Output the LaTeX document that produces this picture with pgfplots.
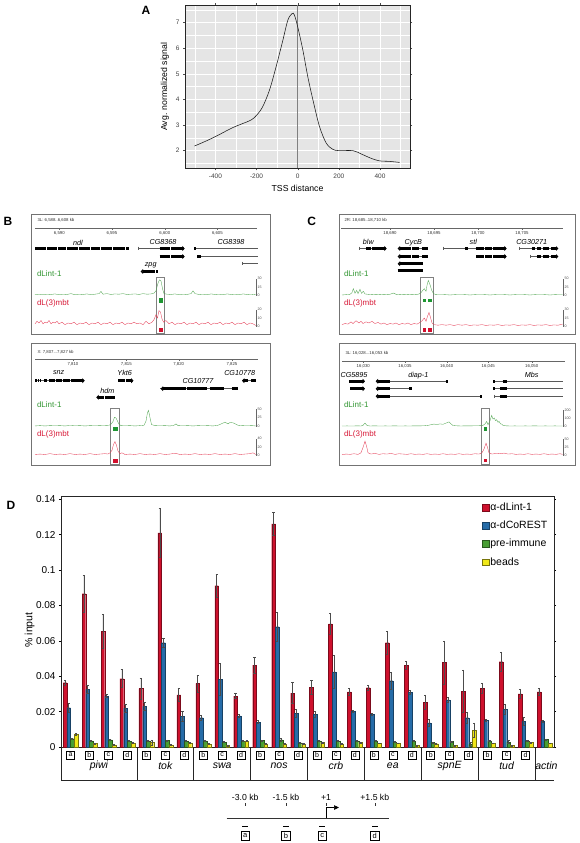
\documentclass[border=0pt]{standalone}
\usepackage{fontspec}
\setmainfont{Liberation Sans}
\usepackage{pgfplots}
\usepackage{pgfplotstable}
\pgfplotsset{compat=1.18}
\usetikzlibrary{arrows.meta}

\definecolor{cRed}{RGB}{206,17,45}
\definecolor{cBlue}{RGB}{38,108,168}
\definecolor{cGreen}{RGB}{72,158,52}
\definecolor{cYellow}{RGB}{240,232,24}
\definecolor{trGreen}{RGB}{80,165,80}
\definecolor{trRed}{RGB}{228,60,85}
\definecolor{lblGreen}{RGB}{50,150,50}
\definecolor{lblRed}{RGB}{215,25,55}
\definecolor{sqGreen}{RGB}{30,150,50}
\definecolor{sqRed}{RGB}{210,15,45}
\definecolor{bgA}{RGB}{229,229,229}

\pgfplotstableread{
i r re b be g ge y ye
0 0.0363 0.0012 0.0222 0.0023 0.0047 0.0005 0.0073 0.0005
1 0.0866 0.0105 0.0326 0.0021 0.0035 0.0003 0.0020 0.0003
2 0.0654 0.0095 0.0288 0.0009 0.0041 0.0004 0.0012 0.0002
3 0.0386 0.0051 0.0219 0.0023 0.0033 0.0003 0.0024 0.0003
4 0.0330 0.0060 0.0229 0.0022 0.0035 0.0004 0.0026 0.0014
5 0.1209 0.0138 0.0589 0.0023 0.0037 0.0003 0.0012 0.0002
6 0.0294 0.0038 0.0174 0.0026 0.0033 0.0003 0.0024 0.0003
7 0.0359 0.0047 0.0166 0.0014 0.0035 0.0003 0.0017 0.0002
8 0.0911 0.0064 0.0382 0.0091 0.0028 0.0002 0.0009 0.0002
9 0.0288 0.0015 0.0176 0.0009 0.0033 0.0003 0.0033 0.0003
10 0.0463 0.0044 0.0141 0.0009 0.0037 0.0003 0.0017 0.0002
11 0.1260 0.0064 0.0680 0.0081 0.0041 0.0009 0.0017 0.0002
12 0.0305 0.0060 0.0190 0.0022 0.0024 0.0002 0.0017 0.0002
13 0.0337 0.0040 0.0185 0.0017 0.0035 0.0003 0.0026 0.0002
14 0.0695 0.0060 0.0424 0.0094 0.0033 0.0003 0.0017 0.0002
15 0.0311 0.0021 0.0201 0.0004 0.0035 0.0004 0.0026 0.0003
16 0.0335 0.0015 0.0185 0.0006 0.0035 0.0003 0.0022 0.0002
17 0.0589 0.0063 0.0375 0.0047 0.0028 0.0002 0.0022 0.0002
18 0.0461 0.0021 0.0309 0.0009 0.0033 0.0003 0.0009 0.0002
19 0.0254 0.0040 0.0137 0.0019 0.0026 0.0002 0.0019 0.0002
20 0.0478 0.0121 0.0266 0.0015 0.0031 0.0003 0.0009 0.0002
21 0.0315 0.0120 0.0166 0.0030 0.0015 0.0012 0.0096 0.0041
22 0.0333 0.0027 0.0152 0.0004 0.0035 0.0003 0.0022 0.0002
23 0.0482 0.0055 0.0213 0.0028 0.0028 0.0008 0.0009 0.0002
24 0.0300 0.0026 0.0145 0.0022 0.0033 0.0003 0.0026 0.0002
25 0.0311 0.0021 0.0145 0.0005 0.0043 0.0003 0.0022 0.0002
}\dataD

\tikzset{
  glab/.style={font=\fontsize{7.2}{8}\selectfont\itshape},
  rlab/.style={font=\fontsize{4.3}{5}\selectfont, text=black!80},
  glbl/.style={font=\fontsize{8}{9}\selectfont, text=lblGreen, anchor=west},
  rlbl/.style={font=\fontsize{8}{9}\selectfont, text=lblRed, anchor=west},
  dname/.style={font=\fontsize{10.5}{12}\selectfont\itshape},
}
\pgfplotsset{
  frameax/.style={scale only axis, enlargelimits=false, y dir=reverse, ticks=none, clip=false,
    unbounded coords=jump, axis line style={black!55, line width=0.8pt}},
  trackax/.style={scale only axis, enlargelimits=false, axis x line=none, axis y line=right, clip=false, ymin=0,
    axis line style={-, black!60, line width=0.3pt}, tick style={black!60, line width=0.3pt},
    major tick length=1.2pt, tick align=outside,
    yticklabel style={font=\fontsize{3.6}{4}\selectfont, text=black!70, inner sep=0.6pt},
    /pgf/number format/assume math mode=true},
  gene/.style={black, line width=3.2pt},
  intr/.style={black!65, line width=0.45pt},
  garr/.style={black, line width=3.2pt, -{Triangle[length=2.3pt,width=4.8pt]}},
  gtr/.style={trGreen, line width=0.35pt},
  rtr/.style={trRed, line width=0.35pt},
}

\begin{document}
\begin{tikzpicture}
\path[use as bounding box] (0pt,0pt) rectangle (579pt,-843pt);

% ---------------- Panel A ----------------
\node[font=\bfseries\fontsize{12}{12}\selectfont] at (146pt,-10pt) {A};
\begin{axis}[at={(185pt,-168.3pt)}, anchor=south west, scale only axis, width=225pt, height=163.3pt,
  xmin=-548, xmax=546, ymin=1.31, ymax=7.69,
  axis background/.style={fill=bgA},
  xtick={-400,-200,0,200,400}, ytick={2,3,4,5,6,7},
  minor xtick={-500,-300,-100,100,300,500}, minor ytick={1.5,2.5,3.5,4.5,5.5,6.5,7.5},
  grid=both, major grid style={white, line width=0.7pt}, minor grid style={white, line width=0.35pt},
  tick align=outside, major tick length=2pt, minor tick length=0pt,
  tick style={black!70, line width=0.4pt},
  ticklabel style={font=\fontsize{6.5}{7}\selectfont, text=black!75},
  /pgf/number format/assume math mode=true,
  axis line style={black!85, line width=0.5pt},
  xlabel={TSS distance}, ylabel={Avg. normalized signal},
  label style={font=\fontsize{8.7}{10}\selectfont},
  clip=true]
\addplot[black!50, line width=1.3pt] coordinates {(0,1.31) (0,7.69)};
\addplot[black!90, line width=0.55pt, smooth, tension=0.5] coordinates {
(-502,2.18) (-450,2.36) (-400,2.55) (-350,2.76) (-316,2.90) (-270,3.05) (-226,3.20)
(-199,3.39) (-170,3.72) (-137,4.37) (-105,5.28) (-72,6.32) (-48,7.10) (-27,7.36)
(-16,7.30) (0,6.84) (25,5.93) (49,4.89) (74,3.98) (106,2.94) (139,2.29) (171,2.05)
(200,2.0) (268,2.0) (309,1.87) (357,1.70) (398,1.60) (447,1.58) (495,1.54)};
\end{axis}

% ---------------- Panel B / C labels ----------------
\node[font=\bfseries\fontsize{12}{12}\selectfont] at (8pt,-221pt) {B};
\node[font=\bfseries\fontsize{12}{12}\selectfont] at (311.6pt,-221pt) {C};

% ===== B1 frame =====
\begin{axis}[frameax, at={(150.5pt,-274pt)}, anchor=center, width=239pt, height=120pt,
  xmin=31, xmax=270, ymin=214, ymax=334]
\node[rlab, anchor=west] at (axis cs:34,220.7) {3L: 6,588..6,608 kb};
\draw[black!60, line width=0.4pt] (axis cs:35,228.3) -- (axis cs:257,228.3);
\draw[black!60, line width=0.4pt] (axis cs:59.3,228.3) -- (axis cs:59.3,230);
\draw[black!60, line width=0.4pt] (axis cs:111.9,228.3) -- (axis cs:111.9,230);
\draw[black!60, line width=0.4pt] (axis cs:164.8,228.3) -- (axis cs:164.8,230);
\draw[black!60, line width=0.4pt] (axis cs:217.4,228.3) -- (axis cs:217.4,230);
\node[rlab] at (axis cs:59.3,233.3) {6,590};
\node[rlab] at (axis cs:111.9,233.3) {6,595};
\node[rlab] at (axis cs:164.8,233.3) {6,600};
\node[rlab] at (axis cs:217.4,233.3) {6,605};
\node[glab] at (axis cs:78,242.5) {ndl};
\node[glab] at (axis cs:163,242.5) {CG8368};
\node[glab] at (axis cs:231,242.5) {CG8398};
\node[glab] at (axis cs:150.7,265.3) {zpg};
% ndl
\addplot[gene] coordinates {(35.3,248.5)(46,248.5)(nan,nan)(46.8,248.5)(57,248.5)(nan,nan)(57.8,248.5)(66,248.5)(nan,nan)(66.8,248.5)(78,248.5)(nan,nan)(78.8,248.5)(90,248.5)(nan,nan)(90.8,248.5)(100,248.5)(nan,nan)(100.8,248.5)(112,248.5)(nan,nan)(112.8,248.5)(124.7,248.5)(nan,nan)(126.3,248.5)(129,248.5)};
% CG8368
\addplot[intr] coordinates {(138,248.5)(160,248.5)};
\addplot[intr] coordinates {(138,246.7)(138,250.3)};
\addplot[gene] coordinates {(159.7,248.5)(170,248.5)(nan,nan)(171,248.5)(180.5,248.5)};
\addplot[garr] coordinates {(180,248.5)(184.7,248.5)};
\addplot[gene] coordinates {(159.7,256.5)(170,256.5)(nan,nan)(171,256.5)(180.5,256.5)};
\addplot[garr] coordinates {(180,256.5)(184.7,256.5)};
% CG8398
\addplot[intr] coordinates {(196,248.5)(258,248.5)};
\addplot[gene] coordinates {(194,248.5)(196.3,248.5)};
\addplot[intr] coordinates {(200,256.5)(258,256.5)};
\addplot[gene] coordinates {(197.3,256.5)(200.7,256.5)};
\addplot[intr] coordinates {(242.3,263.5)(258,263.5)};
\addplot[intr] coordinates {(242.3,261.7)(242.3,265.3)};
% zpg
\addplot[garr] coordinates {(151,271.5)(140.7,271.5)};
\addplot[gene] coordinates {(150.5,271.5)(155,271.5)(nan,nan)(156,271.5)(158,271.5)};
\node[glbl] at (axis cs:33.5,273.7) {dLint-1};
\node[rlbl] at (axis cs:33.5,303) {dL(3)mbt};
\draw[black!50, line width=0.5pt] (axis cs:156.3,277) rectangle (axis cs:164.7,333.2);
\addplot[only marks, mark=square*, mark size=1.7pt, sqGreen] coordinates {(160.5,300.3)};
\addplot[only marks, mark=square*, mark size=1.7pt, sqRed] coordinates {(160.5,329.5)};
\end{axis}

\begin{axis}[trackax, at={(35pt,-295.3pt)}, anchor=south west, width=220.7pt, height=16.6pt,
  xmin=35, xmax=255.7, ymax=30, ytick={0,15,30}]
\addplot[gtr] coordinates {(35,1)(39,2)(43,1)(47,2)(51,1.5)(55,2.5)(59,1)(63,2)(67,1.5)(71,3)(75,1)(79,2)(83,1.5)(87,2.5)(91,1)(95,2)(99,3)(101,7)(103,2)(107,3)(111,1.5)(115,2.5)(119,2)(123,3)(127,1.5)(131,2)(135,2.5)(139,1.5)(143,3)(147,2)(151,2.5)(154,4)(156,8)(158,22)(159.5,28)(161,26)(162.5,12)(164,3)(167,2)(171,1.5)(175,2.5)(179,1)(183,2)(187,1.5)(191,3)(193,8)(195,3)(199,1.5)(203,2)(207,1)(211,2.5)(215,1.5)(219,2)(223,1)(227,2.5)(231,1.5)(235,2)(239,1)(243,2.5)(247,1.5)(251,2)(255.7,1)};
\end{axis}
\begin{axis}[trackax, at={(35pt,-326.3pt)}, anchor=south west, width=220.7pt, height=16.6pt,
  xmin=35, xmax=255.7, ymax=20, ytick={0,10,20}]
\addplot[rtr] coordinates {(35,3)(37,6)(39,4)(41,7)(43,3)(45,5)(47,4)(49,7)(51,3)(53,5)(55,4)(57,6)(59,3)(62,5)(65,2)(68,4)(71,3)(74,5)(77,2)(80,4)(83,3)(86,5)(89,2)(92,4)(95,3)(98,5)(101,2)(104,4)(107,3)(110,5)(113,2)(116,4)(119,3)(122,5)(125,2)(128,4)(131,3)(134,5)(137,3)(140,4)(143,2)(146,6)(149,3)(152,5)(154,8)(156,14)(157.5,10)(159,19)(160.5,17)(162,9)(163.5,5)(166,7)(169,3)(172,5)(175,2)(178,4)(181,3)(184,5)(187,2)(190,4)(193,3)(196,5)(199,2)(202,4)(205,3)(208,5)(211,2)(214,4)(217,3)(220,5)(223,2)(226,4)(229,3)(232,5)(235,2)(238,4)(241,3)(244,5)(247,2)(250,4)(253,3)(255.7,1)};
\end{axis}

% ===== B2 frame =====
\begin{axis}[frameax, at={(150.5pt,-404pt)}, anchor=center, width=239pt, height=122pt,
  xmin=31, xmax=270, ymin=343, ymax=465]
\node[rlab, anchor=west] at (axis cs:34,352) {X: 7,807...7,827 kb};
\draw[black!60, line width=0.4pt] (axis cs:35.3,359) -- (axis cs:258,359);
\draw[black!60, line width=0.4pt] (axis cs:73,359) -- (axis cs:73,360.7);
\draw[black!60, line width=0.4pt] (axis cs:126.3,359) -- (axis cs:126.3,360.7);
\draw[black!60, line width=0.4pt] (axis cs:178.7,359) -- (axis cs:178.7,360.7);
\draw[black!60, line width=0.4pt] (axis cs:232,359) -- (axis cs:232,360.7);
\node[rlab] at (axis cs:73,364) {7,810};
\node[rlab] at (axis cs:126.3,364) {7,815};
\node[rlab] at (axis cs:178.7,364) {7,820};
\node[rlab] at (axis cs:232,364) {7,825};
\node[glab] at (axis cs:58.7,373) {snz};
\node[glab] at (axis cs:124.7,373) {Ykt6};
\node[glab] at (axis cs:239.7,373) {CG10778};
\node[glab] at (axis cs:198,381.3) {CG10777};
\node[glab] at (axis cs:107.3,390.7) {hdm};
% snz
\addplot[intr] coordinates {(35.3,380.7)(84,380.7)};
\addplot[gene] coordinates {(35.3,380.7)(37,380.7)(nan,nan)(37.7,380.7)(39.3,380.7)(nan,nan)(40,380.7)(41.3,380.7)(nan,nan)(44,380.7)(47.3,380.7)(nan,nan)(48.7,380.7)(55,380.7)(nan,nan)(55.7,380.7)(62,380.7)(nan,nan)(62.7,380.7)(70,380.7)(nan,nan)(70.7,380.7)(78.5,380.7)};
\addplot[garr] coordinates {(78,380.7)(84.7,380.7)};
% Ykt6
\addplot[gene] coordinates {(118,380.7)(125,380.7)(nan,nan)(125.7,380.7)(130.5,380.7)};
\addplot[garr] coordinates {(130,380.7)(133.5,380.7)};
% CG10778
\addplot[intr] coordinates {(243,380.7)(256.3,380.7)};
\addplot[garr] coordinates {(248,380.7)(242,380.7)};
\addplot[gene] coordinates {(251,380.7)(256.3,380.7)};
% CG10777
\addplot[intr] coordinates {(160,388.7)(238,388.7)};
\addplot[garr] coordinates {(165.5,388.7)(160.7,388.7)};
\addplot[gene] coordinates {(165,388.7)(186,388.7)(nan,nan)(186.7,388.7)(207,388.7)(nan,nan)(209.5,388.7)(224,388.7)(nan,nan)(232,388.7)(238,388.7)};
% hdm
\addplot[garr] coordinates {(99.5,397.3)(96.3,397.3)};
\addplot[gene] coordinates {(99,397.3)(104,397.3)(nan,nan)(104.7,397.3)(114.7,397.3)};
\node[glbl] at (axis cs:33.5,404.7) {dLint-1};
\node[rlbl] at (axis cs:33.5,434.7) {dL(3)mbt};
\draw[black!50, line width=0.5pt] (axis cs:110.7,408) rectangle (axis cs:119.7,464.3);
\addplot[only marks, mark=square*, mark size=1.7pt, sqGreen] coordinates {(115.3,428.7)};
\addplot[only marks, mark=square*, mark size=1.7pt, sqRed] coordinates {(115.3,460.5)};
\end{axis}

\begin{axis}[trackax, at={(35pt,-426.3pt)}, anchor=south west, width=220.7pt, height=17.3pt,
  xmin=35, xmax=255.7, ymax=50, ytick={0,25,50}]
\addplot[gtr] coordinates {(35,1)(40,2)(45,1)(50,2)(55,1.5)(60,2)(65,1)(70,2.5)(75,1.5)(80,2)(85,1)(90,2)(95,1.5)(100,2)(105,2.5)(109,3)(111,6)(113,14)(114.5,26)(116,24)(117.5,15)(119,6)(121,2)(125,1.5)(130,2)(135,1)(140,2)(144,3)(146,15)(147.5,40)(148.5,46)(150,25)(151.5,5)(155,2)(160,1.5)(165,2)(170,1)(174,3)(176,7)(178,2)(183,1.5)(188,2)(193,1)(198,2)(203,1.5)(208,2)(213,1)(218,3)(222,8)(225,12)(228,7)(230,11)(233,10)(236,6)(238,3)(242,2)(247,1.5)(252,2)(255.7,1)};
\end{axis}
\begin{axis}[trackax, at={(35pt,-455.3pt)}, anchor=south west, width=220.7pt, height=16.6pt,
  xmin=35, xmax=255.7, ymax=40, ytick={0,20,40}]
\addplot[rtr] coordinates {(35,2)(40,3)(45,2)(50,4)(55,2)(60,3)(65,2)(70,4)(75,2)(80,3)(85,2)(90,4)(95,2)(100,3)(105,4)(108,3)(110,6)(112,12)(113.5,26)(115,33)(116.5,24)(118,10)(120,4)(122,6)(125,2)(130,3)(135,2)(140,4)(145,2)(150,3)(155,2)(160,4)(165,2)(170,3)(175,5)(180,2)(185,3)(190,2)(195,4)(200,2)(205,3)(210,2)(215,4)(220,2)(225,3)(230,2)(235,4)(240,2)(245,3)(250,4)(253,6)(255.7,2)};
\end{axis}

% ===== C1 frame =====
\begin{axis}[frameax, at={(457pt,-274pt)}, anchor=center, width=236pt, height=120pt,
  xmin=339, xmax=575, ymin=214, ymax=334]
\node[rlab, anchor=west] at (axis cs:341,220.7) {2R: 18,685..18,710 kb};
\draw[black!60, line width=0.4pt] (axis cs:341,228.3) -- (axis cs:563,228.3);
\draw[black!60, line width=0.4pt] (axis cs:390,228.3) -- (axis cs:390,230);
\draw[black!60, line width=0.4pt] (axis cs:434,228.3) -- (axis cs:434,230);
\draw[black!60, line width=0.4pt] (axis cs:478,228.3) -- (axis cs:478,230);
\draw[black!60, line width=0.4pt] (axis cs:522,228.3) -- (axis cs:522,230);
\node[rlab] at (axis cs:390,233.3) {18,690};
\node[rlab] at (axis cs:434,233.3) {18,695};
\node[rlab] at (axis cs:478,233.3) {18,700};
\node[rlab] at (axis cs:522,233.3) {18,705};
\node[glab] at (axis cs:368.3,242.3) {blw};
\node[glab] at (axis cs:413.3,242.3) {CycB};
\node[glab] at (axis cs:473.3,242.3) {stl};
\node[glab] at (axis cs:531.7,242.3) {CG30271};
% blw
\addplot[intr] coordinates {(359,248.5)(386,248.5)};
\addplot[intr] coordinates {(359,246.7)(359,250.3)};
\addplot[gene] coordinates {(366,248.5)(371,248.5)(nan,nan)(372,248.5)(380.5,248.5)};
\addplot[garr] coordinates {(380,248.5)(386.7,248.5)};
% CycB
\addplot[garr] coordinates {(402.5,248.5)(397.7,248.5)};
\addplot[gene] coordinates {(402,248.5)(411,248.5)(nan,nan)(412,248.5)(419,248.5)(nan,nan)(422,248.5)(428.3,248.5)};
\addplot[intr] coordinates {(419,248.5)(422,248.5)};
\addplot[garr] coordinates {(402.5,256.5)(397.7,256.5)};
\addplot[gene] coordinates {(402,256.5)(411,256.5)(nan,nan)(412,256.5)(419,256.5)(nan,nan)(422,256.5)(428.3,256.5)};
\addplot[intr] coordinates {(419,256.5)(422,256.5)};
\addplot[garr] coordinates {(402.5,263.7)(397.7,263.7)};
\addplot[gene] coordinates {(402,263.7)(423.3,263.7)};
\addplot[gene] coordinates {(397.7,270.7)(423.3,270.7)};
% stl
\addplot[intr] coordinates {(443.3,248.5)(506,248.5)};
\addplot[intr] coordinates {(443.3,246.7)(443.3,250.3)};
\addplot[gene] coordinates {(465,248.5)(467.5,248.5)(nan,nan)(476,248.5)(484,248.5)(nan,nan)(485,248.5)(492,248.5)(nan,nan)(493,248.5)(500.5,248.5)};
\addplot[garr] coordinates {(500,248.5)(506.7,248.5)};
\addplot[gene] coordinates {(476,256.5)(484,256.5)(nan,nan)(485,256.5)(492,256.5)(nan,nan)(493,256.5)(500.5,256.5)};
\addplot[garr] coordinates {(500,256.5)(506.7,256.5)};
% CG30271
\addplot[intr] coordinates {(519.3,248.5)(558,248.5)};
\addplot[intr] coordinates {(519.3,246.7)(519.3,250.3)};
\addplot[gene] coordinates {(532,248.5)(535,248.5)(nan,nan)(537,248.5)(541,248.5)(nan,nan)(543,248.5)(549,248.5)};
\addplot[garr] coordinates {(551,248.5)(558.3,248.5)};
\addplot[intr] coordinates {(530,256.5)(558,256.5)};
\addplot[intr] coordinates {(530,254.7)(530,258.3)};
\addplot[gene] coordinates {(537,256.5)(541,256.5)(nan,nan)(543,256.5)(549,256.5)};
\addplot[garr] coordinates {(551,256.5)(558.3,256.5)};
\node[glbl] at (axis cs:340.5,273.7) {dLint-1};
\node[rlbl] at (axis cs:340.5,303) {dL(3)mbt};
\draw[black!50, line width=0.5pt] (axis cs:420,277) rectangle (axis cs:433.3,333.2);
\addplot[only marks, mark=square*, mark size=1.3pt, sqGreen] coordinates {(424,300.3)(429.8,300.3)};
\addplot[only marks, mark=square*, mark size=1.3pt, sqRed] coordinates {(424,329.5)(429.8,329.5)};
\end{axis}

\begin{axis}[trackax, at={(342pt,-295.3pt)}, anchor=south west, width=220.7pt, height=16.6pt,
  xmin=342, xmax=562.7, ymax=50, ytick={0,25,50}]
\addplot[gtr] coordinates {(342,1)(346,2)(350,3)(352,8)(353.3,20)(355,6)(356.7,15)(358,5)(360,18)(361.5,6)(363.3,12)(365,4)(368,3)(372,2)(376,3)(380,2)(384,3)(388,2)(391,4)(393.3,7)(396,3)(400,2)(404,3)(408,2)(412,3)(416,2)(419,4)(421,8)(422.5,14)(424.3,20)(426,12)(427,30)(428.3,45)(430,32)(431.7,15)(433.5,5)(436,2)(440,1.5)(445,2)(450,1)(455,2)(460,1.5)(465,2)(470,1)(475,2)(480,1.5)(485,2)(490,1)(495,2)(500,1.5)(505,2)(510,1)(515,2)(520,1.5)(525,2)(530,1)(535,2)(540,1.5)(545,2)(550,1)(555,2)(562.7,1.5)};
\end{axis}
\begin{axis}[trackax, at={(342pt,-326.3pt)}, anchor=south west, width=220.7pt, height=16.6pt,
  xmin=342, xmax=562.7, ymax=30, ytick={0,15,30}]
\addplot[rtr] coordinates {(342,3)(345,5)(348,4)(351,8)(353,5)(356,10)(359,6)(361,9)(363,5)(366,8)(369,6)(372,9)(375,5)(378,7)(381,4)(384,6)(387,3)(390,5)(393,4)(396,6)(399,3)(402,5)(405,4)(408,6)(411,3)(414,5)(417,4)(420,7)(422,10)(424.3,15)(426,9)(427.5,18)(429,25)(430.5,16)(432,6)(434,3)(438,2)(442,3)(446,2)(450,3)(454,1.5)(458,3)(462,2)(466,3)(470,1.5)(474,2.5)(478,2)(482,3)(486,1.5)(490,2.5)(494,2)(498,3)(502,1.5)(506,2.5)(510,2)(514,3)(518,1.5)(522,2.5)(526,2)(530,3)(534,1.5)(538,2.5)(542,2)(546,3)(550,1.5)(554,2.5)(558,2)(562.7,4)};
\end{axis}

% ===== C2 frame =====
\begin{axis}[frameax, at={(457pt,-404pt)}, anchor=center, width=236pt, height=122pt,
  xmin=339, xmax=575, ymin=343, ymax=465]
\node[rlab, anchor=west] at (axis cs:342,353) {3L: 16,028...16,053 kb};
\draw[black!60, line width=0.4pt] (axis cs:342.3,361.3) -- (axis cs:565,361.3);
\draw[black!60, line width=0.4pt] (axis cs:363.3,361.3) -- (axis cs:363.3,363);
\draw[black!60, line width=0.4pt] (axis cs:405,361.3) -- (axis cs:405,363);
\draw[black!60, line width=0.4pt] (axis cs:446.7,361.3) -- (axis cs:446.7,363);
\draw[black!60, line width=0.4pt] (axis cs:488.3,361.3) -- (axis cs:488.3,363);
\draw[black!60, line width=0.4pt] (axis cs:531.7,361.3) -- (axis cs:531.7,363);
\node[rlab] at (axis cs:363.3,366.3) {16,030};
\node[rlab] at (axis cs:405,366.3) {16,035};
\node[rlab] at (axis cs:446.7,366.3) {16,040};
\node[rlab] at (axis cs:488.3,366.3) {16,045};
\node[rlab] at (axis cs:531.7,366.3) {16,050};
\node[glab] at (axis cs:354,375.3) {CG5895};
\node[glab] at (axis cs:418.3,375.3) {diap-1};
\node[glab] at (axis cs:531.7,375.3) {Mbs};
% CG5895
\addplot[gene] coordinates {(349,381.3)(360.5,381.3)};
\addplot[garr] coordinates {(360,381.3)(365,381.3)};
\addplot[gene] coordinates {(350,388.7)(360.5,388.7)};
\addplot[garr] coordinates {(360,388.7)(365,388.7)};
% diap-1
\addplot[intr] coordinates {(380,381.3)(448.3,381.3)};
\addplot[garr] coordinates {(380.5,381.3)(375.7,381.3)};
\addplot[gene] coordinates {(380,381.3)(390,381.3)(nan,nan)(445.7,381.3)(448.3,381.3)};
\addplot[intr] coordinates {(380,388.7)(411.7,388.7)};
\addplot[garr] coordinates {(380.5,388.7)(375.7,388.7)};
\addplot[gene] coordinates {(380,388.7)(390,388.7)(nan,nan)(409,388.7)(411.7,388.7)};
\addplot[intr] coordinates {(380,396.3)(482.3,396.3)};
\addplot[garr] coordinates {(380.5,396.3)(375.7,396.3)};
\addplot[gene] coordinates {(380,396.3)(390,396.3)(nan,nan)(480,396.3)(482.3,396.3)};
% Mbs
\addplot[intr] coordinates {(493.3,381.3)(563.3,381.3)};
\addplot[gene] coordinates {(493.3,381.3)(495.3,381.3)(nan,nan)(502.7,381.3)(506.7,381.3)};
\addplot[intr] coordinates {(493.3,388.7)(563.3,388.7)};
\addplot[gene] coordinates {(493.3,388.7)(495.3,388.7)(nan,nan)(500,388.7)(506.7,388.7)};
\addplot[intr] coordinates {(494,396.3)(563.3,396.3)};
\addplot[intr] coordinates {(494,394.5)(494,398.1)};
\addplot[gene] coordinates {(500,396.3)(506.7,396.3)};
\node[glbl] at (axis cs:340.5,404.7) {dLint-1};
\node[rlbl] at (axis cs:340.5,434.7) {dL(3)mbt};
\draw[black!50, line width=0.5pt] (axis cs:481.7,408) rectangle (axis cs:489,464.3);
\addplot[only marks, mark=square*, mark size=1.1pt, sqGreen] coordinates {(485.5,428.7)};
\addplot[only marks, mark=square*, mark size=1.1pt, sqRed] coordinates {(485.5,460.5)};
\end{axis}

\begin{axis}[trackax, at={(342pt,-426.3pt)}, anchor=south west, width=220.7pt, height=16pt,
  xmin=342, xmax=562.7, ymax=200, ytick={0,100,200}]
\addplot[gtr] coordinates {(342,3)(347,5)(352,3)(357,6)(361,4)(363,12)(365,40)(367,10)(370,4)(375,6)(380,3)(385,5)(390,4)(395,6)(400,3)(405,5)(410,4)(415,6)(420,5)(425,8)(428,12)(431,20)(434,28)(437,22)(440,30)(443,25)(446,40)(449,55)(451,30)(453,10)(457,6)(461,4)(465,6)(470,5)(475,7)(480,8)(483,12)(485,30)(486.7,60)(488,20)(490,70)(491.7,137)(493,90)(494.3,104)(495.5,70)(496.7,83)(498,50)(499,62)(500.5,30)(501.7,29)(503,12)(506,6)(510,4)(515,5)(520,3)(525,5)(530,4)(535,6)(540,3)(545,5)(550,4)(555,5)(562.7,3)};
\end{axis}
\begin{axis}[trackax, at={(342pt,-455.3pt)}, anchor=south west, width=220.7pt, height=15.7pt,
  xmin=342, xmax=562.7, ymax=50, ytick={0,25,50}]
\addplot[rtr] coordinates {(342,2)(346,4)(350,3)(354,5)(358,3)(361,8)(363,25)(365,45)(366.5,30)(368,8)(371,4)(375,6)(379,3)(383,5)(387,4)(391,6)(395,3)(399,5)(403,4)(407,3)(411,5)(415,3)(419,4)(423,3)(427,5)(431,3)(435,4)(439,3)(443,5)(447,3)(451,4)(455,3)(459,5)(463,3)(467,4)(471,3)(475,5)(479,4)(482,8)(484,20)(486,39)(487.5,25)(489,8)(492,4)(496,6)(500,5)(504,7)(508,4)(512,5)(516,3)(520,4)(524,3)(528,5)(532,3)(536,4)(540,3)(544,5)(548,3)(552,4)(556,3)(560,5)(562.7,3)};
\end{axis}

% ---------------- Panel D ----------------
\node[font=\bfseries\fontsize{12}{12}\selectfont] at (11pt,-505pt) {D};
\node[font=\fontsize{10.5}{12}\selectfont, rotate=90] at (29.6pt,-630pt) {\% input};
\begin{axis}[at={(61pt,-747pt)}, anchor=south west, scale only axis, width=493pt, height=250.5pt,
  xmin=-0.5, xmax=25.5, ymin=0, ymax=0.1415, clip=false,
  ybar=0pt, bar width=3.7pt,
  xtick={0,...,24}, xticklabels={a,b,c,d,b,c,d,b,c,d,b,c,d,b,c,d,b,c,d,b,c,d,b,c,d},
  xticklabel style={draw=black, line width=0.55pt, inner sep=0pt, minimum width=8pt, minimum height=8pt,
    font=\fontsize{7}{7}\selectfont, yshift=-1.8pt},
  major x tick style={draw=none},
  ytick={0,0.02,0.04,0.06,0.08,0.1,0.12,0.14},
  scaled y ticks=false,
  yticklabel style={/pgf/number format/fixed, /pgf/number format/precision=2, font=\fontsize{10}{11}\selectfont},
  /pgf/number format/assume math mode=true,
  tick align=outside, major tick length=2pt, major y tick style={black, line width=0.5pt},
  axis line style={black!85, line width=0.6pt},
  legend style={at={(axis cs:21.55,0.1397)}, anchor=north west, draw=none, fill=none,
    font=\fontsize{10.5}{12}\selectfont, row sep=6.6pt, nodes={inner sep=1.2pt}},
  legend cell align=left,
  legend image code/.code={\draw[#1, line width=0.3pt] (0pt,-3.3pt) rectangle (6.6pt,3.3pt);},
]
\addplot[fill=cRed, draw=cRed!60!black, line width=0.2pt,
  error bars/.cd, y dir=both, y explicit, error bar style={black!70, line width=0.45pt},
  error mark options={black!70, line width=0.45pt, mark size=1.1pt, rotate=90}]
  table[x=i, y=r, y error=re]{\dataD};
\addplot[fill=cBlue, draw=cBlue!60!black, line width=0.2pt,
  error bars/.cd, y dir=both, y explicit, error bar style={black!70, line width=0.45pt},
  error mark options={black!70, line width=0.45pt, mark size=1.1pt, rotate=90}]
  table[x=i, y=b, y error=be]{\dataD};
\addplot[fill=cGreen, draw=cGreen!55!black, line width=0.2pt,
  error bars/.cd, y dir=both, y explicit, error bar style={black!70, line width=0.45pt},
  error mark options={black!70, line width=0.45pt, mark size=1.1pt, rotate=90}]
  table[x=i, y=g, y error=ge]{\dataD};
\addplot[fill=cYellow, draw=cYellow!50!black, line width=0.2pt,
  error bars/.cd, y dir=both, y explicit, error bar style={black!70, line width=0.45pt},
  error mark options={black!70, line width=0.45pt, mark size=1.1pt, rotate=90}]
  table[x=i, y=y, y error=ye]{\dataD};
\legend{α-dLint-1, α-dCoREST, pre-immune, beads}
\draw[black!85, line width=0.6pt] (axis cs:-0.5,0) -- (axis cs:-0.5,-0.01904) -- (axis cs:25.5,-0.01904);
\pgfplotsinvokeforeach{3.5,6.5,9.5,12.5,15.5,18.5,21.5,24.5}{
  \draw[black!85, line width=0.6pt] (axis cs:#1,0) -- (axis cs:#1,-0.01904);
}
\node[dname] at (axis cs:1.5,-0.0107) {piwi};
\node[dname] at (axis cs:5,-0.0107) {tok};
\node[dname] at (axis cs:8,-0.0107) {swa};
\node[dname] at (axis cs:11,-0.0107) {nos};
\node[dname] at (axis cs:14,-0.0107) {crb};
\node[dname] at (axis cs:17,-0.0107) {ea};
\node[dname] at (axis cs:20,-0.0107) {spnE};
\node[dname] at (axis cs:23,-0.0107) {tud};
\node[dname] at (axis cs:25.1,-0.0107) {actin};
\end{axis}

% ---------------- Schematic ----------------
\begin{scope}[font=\fontsize{8.7}{10}\selectfont]
\node at (245.2pt,-797.3pt) {-3.0 kb};
\node at (286pt,-797.3pt) {-1.5 kb};
\node at (326pt,-797.3pt) {+1};
\node at (374.8pt,-797.3pt) {+1.5 kb};
\end{scope}
\foreach \xx in {245.2,286,326,374.8} {
  \draw[black!80, line width=0.6pt] (\xx pt,-803pt) -- (\xx pt,-805.5pt);
}
\draw[black!80, line width=0.8pt] (226.7pt,-818.3pt) -- (388.9pt,-818.3pt);
\draw[black, line width=0.7pt, -{Triangle[length=5pt,width=4.5pt]}] (326pt,-818.3pt) -- (326pt,-807.5pt) -- (339pt,-807.5pt);
\foreach \xx in {245.2,286,322.2,374.8} {
  \draw[black, line width=0.8pt] (\xx pt-2.8pt,-826pt) -- (\xx pt+2.8pt,-826pt);
}
\begin{scope}[every node/.style={draw=black, line width=0.55pt, inner sep=0pt, minimum width=8.5pt, minimum height=8.5pt, font=\fontsize{7.5}{8}\selectfont}]
\node at (245.2pt,-836pt) {a};
\node at (286pt,-836pt) {b};
\node at (322.2pt,-836pt) {c};
\node at (374.8pt,-836pt) {d};
\end{scope}
\end{tikzpicture}
\end{document}
